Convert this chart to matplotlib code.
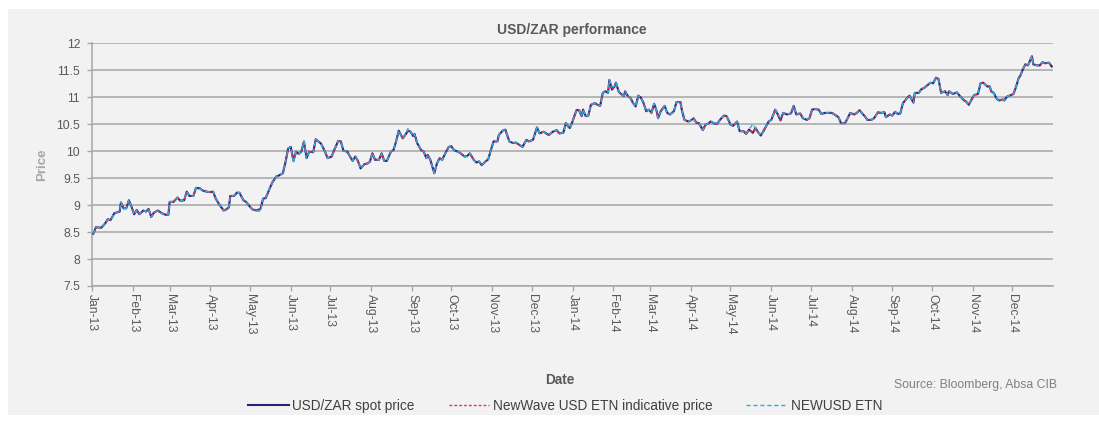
import matplotlib
matplotlib.use('Agg')
import matplotlib.pyplot as plt
import matplotlib.dates as mdates
from matplotlib.patches import Rectangle
from matplotlib.lines import Line2D
import pandas as pd

plt.rcParams['font.family'] = ['Liberation Sans', 'DejaVu Sans']

# ---------------- data ----------------
dates_2013 = [
    '01-02', '01-04', '01-08', '01-11', '01-13', '01-15', '01-18', '01-22', '01-23', '01-25',
    '01-27', '01-29', '01-31', '02-02', '02-04', '02-06', '02-09', '02-11', '02-13', '02-15',
    '02-17', '02-20', '02-23', '02-26', '02-28', '03-01', '03-04', '03-05', '03-07', '03-09',
    '03-12', '03-14', '03-16', '03-19', '03-21', '03-24', '03-26', '03-29', '04-01', '04-03',
    '04-05', '04-08', '04-11', '04-13', '04-15', '04-16', '04-19', '04-21', '04-23', '04-26',
    '04-28', '05-01', '05-03', '05-06', '05-09', '05-11', '05-13', '05-16', '05-18', '05-21',
    '05-23', '05-26', '05-28', '05-30', '06-01', '06-03', '06-05', '06-07', '06-09', '06-11',
    '06-13', '06-15', '06-18', '06-20', '06-22', '06-24', '06-27', '06-29', '07-02', '07-04',
    '07-07', '07-09', '07-11', '07-14', '07-16', '07-18', '07-20', '07-22', '07-24', '07-27',
    '07-29', '07-31', '08-02', '08-04', '08-07', '08-09', '08-11', '08-13', '08-16', '08-18',
    '08-20', '08-22', '08-25', '08-27', '08-29', '08-31', '09-02', '09-03', '09-05', '09-08',
    '09-10', '09-12', '09-13', '09-15', '09-18', '09-20', '09-22', '09-24', '09-27', '09-29',
    '10-01', '10-03', '10-06', '10-08', '10-11', '10-13', '10-15', '10-18', '10-20', '10-22',
    '10-24', '10-27', '10-29', '10-31', '11-02', '11-05', '11-06', '11-09', '11-11', '11-14',
    '11-17', '11-19', '11-22', '11-24', '11-27', '11-29', '12-02', '12-05', '12-07', '12-10',
    '12-12', '12-14', '12-17', '12-20', '12-22', '12-25', '12-27', '12-29', '12-30',
]
spot_2013 = [
    8.47, 8.59, 8.58, 8.66, 8.74, 8.72, 8.85, 8.88, 9.05, 8.94,
    8.94, 9.09, 8.97, 8.83, 8.91, 8.83, 8.90, 8.88, 8.93, 8.78,
    8.86, 8.90, 8.85, 8.82, 8.82, 9.06, 9.06, 9.09, 9.14, 9.08,
    9.09, 9.25, 9.17, 9.17, 9.32, 9.31, 9.27, 9.25, 9.24, 9.25,
    9.12, 9.00, 8.90, 8.92, 8.96, 9.17, 9.17, 9.23, 9.23, 9.09,
    9.06, 8.97, 8.92, 8.90, 8.93, 9.12, 9.13, 9.31, 9.42, 9.53,
    9.55, 9.59, 9.80, 10.05, 10.08, 9.82, 9.99, 9.95, 9.99, 10.18,
    9.87, 9.99, 9.98, 10.22, 10.18, 10.14, 9.99, 9.87, 9.90, 10.02,
    10.19, 10.18, 10.01, 9.99, 9.90, 9.82, 9.90, 9.82, 9.68, 9.76,
    9.77, 9.80, 9.96, 9.84, 9.84, 9.96, 9.82, 9.82, 9.99, 10.02,
    10.18, 10.38, 10.24, 10.30, 10.38, 10.36, 10.28, 10.32, 10.15, 10.02,
    9.99, 9.87, 9.93, 9.84, 9.59, 9.77, 9.87, 9.84, 9.99, 10.08,
    10.09, 10.02, 9.99, 9.96, 9.90, 9.91, 9.96, 9.84, 9.79, 9.81,
    9.74, 9.81, 9.85, 10.02, 10.18, 10.18, 10.30, 10.38, 10.40, 10.18,
    10.15, 10.16, 10.11, 10.08, 10.21, 10.18, 10.21, 10.44, 10.33, 10.36,
    10.33, 10.30, 10.36, 10.39, 10.33, 10.34, 10.52, 10.45, 10.43,
]
dates_2014 = [
    '01-01', '01-04', '01-06', '01-08', '01-09', '01-11', '01-13', '01-15', '01-18', '01-20',
    '01-22', '01-24', '01-26', '01-28', '01-29', '01-31', '02-02', '02-03', '02-05', '02-06',
    '02-09', '02-10', '02-12', '02-14', '02-16', '02-18', '02-20', '02-22', '02-24', '02-26',
    '02-28', '03-02', '03-04', '03-06', '03-07', '03-09', '03-12', '03-14', '03-16', '03-19',
    '03-21', '03-24', '03-25', '03-27', '03-30', '04-01', '04-03', '04-05', '04-07', '04-10',
    '04-12', '04-14', '04-16', '04-19', '04-21', '04-23', '04-26', '04-28', '04-30', '05-01',
    '05-03', '05-06', '05-08', '05-11', '05-13', '05-15', '05-18', '05-20', '05-22', '05-24',
    '05-26', '05-28', '05-30', '06-01', '06-04', '06-06', '06-08', '06-10', '06-13', '06-16',
    '06-18', '06-20', '06-23', '06-25', '06-28', '06-30', '07-02', '07-04', '07-07', '07-09',
    '07-12', '07-14', '07-17', '07-19', '07-22', '07-24', '07-27', '07-29', '07-31', '08-03',
    '08-05', '08-07', '08-09', '08-11', '08-13', '08-16', '08-18', '08-21', '08-23', '08-26',
    '08-27', '08-30', '09-01', '09-03', '09-05', '09-07', '09-09', '09-12', '09-14', '09-17',
    '09-18', '09-21', '09-23', '09-25', '09-28', '09-30', '10-02', '10-04', '10-06', '10-08',
    '10-11', '10-13', '10-14', '10-17', '10-20', '10-22', '10-25', '10-27', '10-29', '10-31',
    '11-02', '11-05', '11-07', '11-09', '11-12', '11-14', '11-15', '11-17', '11-19', '11-21',
    '11-24', '11-25', '11-27', '11-30', '12-02', '12-04', '12-06', '12-07', '12-09', '12-11',
    '12-13', '12-16', '12-17', '12-20', '12-22', '12-24', '12-26', '12-29', '12-31',
]
spot_2014 = [
    10.55, 10.76, 10.76, 10.65, 10.77, 10.65, 10.66, 10.86, 10.89, 10.86,
    10.84, 11.08, 11.11, 11.08, 11.32, 11.14, 11.20, 11.27, 11.11, 11.08,
    11.02, 11.11, 11.02, 10.99, 10.89, 10.83, 11.03, 10.99, 10.89, 10.74,
    10.77, 10.71, 10.88, 10.74, 10.61, 10.74, 10.84, 10.71, 10.68, 10.74,
    10.91, 10.91, 10.77, 10.58, 10.55, 10.57, 10.61, 10.53, 10.52, 10.39,
    10.49, 10.51, 10.55, 10.51, 10.51, 10.58, 10.66, 10.65, 10.55, 10.49,
    10.47, 10.55, 10.37, 10.37, 10.32, 10.40, 10.34, 10.43, 10.35, 10.29,
    10.37, 10.46, 10.55, 10.58, 10.77, 10.68, 10.57, 10.71, 10.68, 10.70,
    10.84, 10.68, 10.70, 10.61, 10.58, 10.61, 10.77, 10.78, 10.77, 10.69,
    10.71, 10.71, 10.71, 10.68, 10.63, 10.52, 10.52, 10.61, 10.71, 10.68,
    10.71, 10.76, 10.70, 10.65, 10.58, 10.58, 10.61, 10.72, 10.71, 10.72,
    10.63, 10.68, 10.66, 10.73, 10.69, 10.70, 10.89, 10.98, 11.03, 10.90,
    11.08, 11.08, 11.15, 11.17, 11.23, 11.27, 11.26, 11.36, 11.34, 11.08,
    11.11, 11.04, 11.11, 11.06, 11.09, 11.03, 10.95, 10.92, 10.86, 10.95,
    11.04, 11.06, 11.26, 11.27, 11.20, 11.20, 11.11, 11.08, 10.98, 10.94,
    10.96, 10.94, 11.01, 11.04, 11.06, 11.20, 11.36, 11.39, 11.51, 11.61,
    11.59, 11.76, 11.61, 11.59, 11.59, 11.65, 11.63, 11.64, 11.57,
]
# NewWave indicative price: visually identical to spot
indicative_2013 = list(spot_2013)
indicative_2014 = list(spot_2014)
# NEWUSD ETN: follows spot, with a few visible deviations
newusd_deviations = {
    '2013-05-09': 8.88, '2013-06-03': 9.78, '2013-08-29': 10.42,
    '2014-01-31': 11.20, '2014-05-18': 10.50, '2014-06-08': 10.62,
}

series_labels = ['USD/ZAR spot price', 'NewWave USD ETN indicative price', 'NEWUSD ETN']
y_ticks = [7.5, 8, 8.5, 9, 9.5, 10, 10.5, 11, 11.5, 12]
y_ticklabels = ['7.5', '8', '8.5', '9', '9.5', '10', '10.5', '11', '11.5', '12']

# ---------------- build ----------------
dates = pd.to_datetime(['2013-' + d for d in dates_2013] + ['2014-' + d for d in dates_2014])
spot = spot_2013 + spot_2014
indicative = indicative_2013 + indicative_2014
newusd = list(spot)
for i, d in enumerate(dates):
    key = d.strftime('%Y-%m-%d')
    if key in newusd_deviations:
        newusd[i] = newusd_deviations[key]

W, H = 1099, 422
fig = plt.figure(figsize=(W / 100, H / 100), dpi=100)
fig.patch.set_facecolor('white')
fig.add_artist(Rectangle((8 / W, 1 - 415 / H), (W - 8) / W, (415 - 9) / H,
                         transform=fig.transFigure, facecolor='#f2f2f2',
                         edgecolor='none', zorder=0))

ax = fig.add_axes([92 / W, 1 - 286 / H, (1053 - 92) / W, (286 - 43.3) / H])
ax.set_facecolor('none')

navy, red, cyan = '#25237a', '#e0384e', '#2aaee3'
ax.plot(dates, spot, color=navy, lw=1.5, zorder=3)
ax.plot(dates, indicative, color=red, lw=1.0, dashes=(2, 1.5), zorder=4)
ax.plot(dates, newusd, color=cyan, lw=1.0, dashes=(3, 2), zorder=5)

ax.set_ylim(7.5, 12)
ax.set_yticks(y_ticks)
ax.set_yticklabels(y_ticklabels)
ax.set_xlim(pd.Timestamp('2013-01-01'), pd.Timestamp('2015-01-01'))
month_ticks = pd.date_range('2013-01-01', '2014-12-01', freq='MS')
ax.set_xticks(month_ticks)
ax.xaxis.set_major_formatter(mdates.DateFormatter('%b-%y'))

gridc = '#a6a6a6'
ax.grid(axis='y', color=gridc, lw=1.1)
ax.set_axisbelow(True)
for s in ['top', 'right']:
    ax.spines[s].set_visible(False)
for s in ['left', 'bottom']:
    ax.spines[s].set_color(gridc)
    ax.spines[s].set_linewidth(1.1)

ax.tick_params(axis='y', direction='out', length=3.5, width=1, color=gridc,
               labelsize=8.7, labelcolor='#595959', pad=5)
ax.tick_params(axis='x', direction='out', length=3.5, width=1, color=gridc,
               labelsize=8.7, labelcolor='#595959', pad=2)
for lab in ax.get_xticklabels():
    lab.set_rotation(-90)
    lab.set_ha('center')
    lab.set_va('top')

fig.text(572 / W, 1 - 30 / H, 'USD/ZAR performance', ha='center', va='center',
         fontsize=10, fontweight='bold', color='#595959')
fig.text(42 / W, 1 - 165 / H, 'Price', ha='center', va='center', rotation=90,
         fontsize=9.5, fontweight='bold', color='#a6a6a6')
fig.text(560 / W, 1 - 380 / H, 'Date', ha='center', va='center',
         fontsize=9.8, fontweight='bold', color='#595959')
fig.text(1057 / W, 1 - 385 / H, 'Source: Bloomberg, Absa CIB', ha='right', va='center',
         fontsize=8.8, color='#7f7f7f')

handles = [Line2D([], [], color=navy, lw=1.5),
           Line2D([], [], color=red, lw=1.0, dashes=(2, 1.5)),
           Line2D([], [], color=cyan, lw=1.0, dashes=(3, 2))]
fig.legend(handles, series_labels, loc='center', bbox_to_anchor=(565 / W, 1 - 406 / H),
           ncol=3, frameon=False, fontsize=9.8, handlelength=3.0, handletextpad=0.25,
           columnspacing=2.5, labelcolor='#404040')

fig.savefig('out.png', dpi=100, facecolor=fig.get_facecolor())
